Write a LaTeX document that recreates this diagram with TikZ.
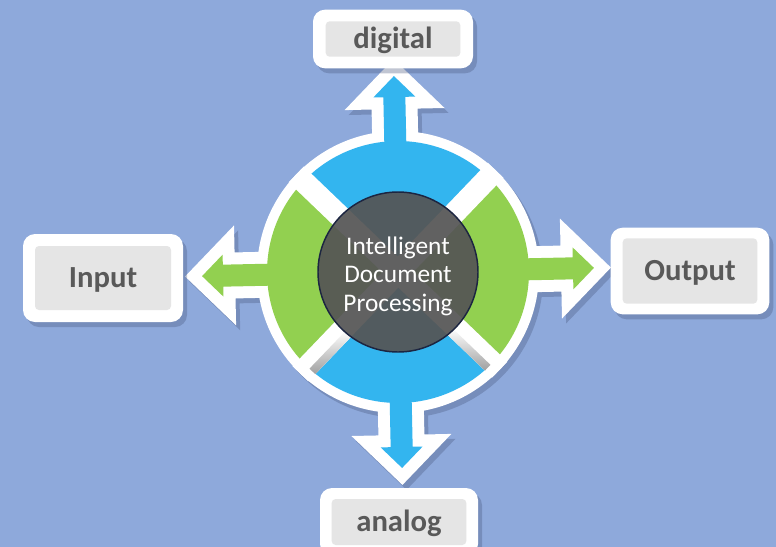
\documentclass[tikz,border=0pt]{standalone}
\usepackage{fontspec}
\setmainfont{Carlito}
\usepackage{tikz}
\definecolor{bgblue}{HTML}{8EA9DB}
\definecolor{segblue}{HTML}{33B5EF}
\definecolor{seggreen}{HTML}{92D050}
\definecolor{hubgray}{HTML}{555555}
\definecolor{hubrim}{HTML}{1C2541}
\definecolor{tagfill}{HTML}{E5E5E5}
\definecolor{tagtext}{HTML}{595959}
\definecolor{shadowc}{HTML}{4B5A80}
\newcommand{\arrowpath}{(-11,95) -- (-11,175) -- (-21,175) -- (0,196) -- (21,175) -- (11,175) -- (11,95) -- cycle}
\newcommand{\arrowrim}[2]{\draw[#2, line width=18pt, rotate=#1] \arrowpath;}
\newcommand{\arrowbody}[2]{\fill[#2, rotate=#1] \arrowpath;}
\newcommand{\sector}[3]{\fill[#3] (0,0) -- (#1:131) arc[start angle=#1, end angle=#2, radius=131] -- cycle;}
\newcommand{\tagbox}[8]{
	\node[boxshadow, minimum width=#4, minimum height=#5] (#1-shadow) at (#2+4,#3-5) {};
	\node[tagrim, minimum width=#4, minimum height=#5] (#1) at (#2,#3) {};
	\node[tagcore, minimum width=#6, minimum height=#7] (#1-core) at (#2,#3) {#8};
}
\tikzset{
	tagrim/.style={fill=white, rounded corners=9pt, inner sep=0pt},
	boxshadow/.style={fill=shadowc, opacity=.35, rounded corners=9pt, inner sep=0pt},
	tagcore/.style={fill=tagfill, rounded corners=3pt, inner sep=0pt, text=tagtext, text height=14.7pt, text depth=0pt, font=\fontsize{23}{27}\selectfont\bfseries},
	hub/.style={circle, minimum size=120pt, inner sep=0pt, fill=hubgray, fill opacity=.93, draw=hubrim, line width=1.1pt},
	hublabel/.style={text=white, align=center, font=\fontsize{19}{21.4}\selectfont}
}

\begin{document}
\begin{tikzpicture}[x=0.75pt, y=0.75pt]
	\useasboundingbox (0,0) rectangle (776,-547);
	\clip (0,0) rectangle (776,-547);
	\fill[bgblue] (0,0) rectangle (776,-547);
	
	\begin{scope}[shift={(398,-272)}, rotate=1.2]
		\begin{scope}[shift={(4,-5)}, transparency group, opacity=.35]
			\fill[shadowc] (0,0) circle (141);
			\arrowrim{0}{shadowc}
			\arrowrim{90}{shadowc}
			\arrowrim{180}{shadowc}
			\arrowrim{270}{shadowc}
		\end{scope}
		
		\fill[white] (0,0) circle (141);
		\arrowrim{0}{white}
		\arrowrim{90}{white}
		\arrowrim{180}{white}
		\arrowrim{270}{white}
		
		\sector{45}{135}{segblue}
		\sector{135}{225}{seggreen}
		\sector{225}{315}{segblue}
		\sector{-45}{45}{seggreen}
		
		\arrowbody{0}{segblue}
		\arrowbody{90}{seggreen}
		\arrowbody{180}{segblue}
		\arrowbody{270}{seggreen}
		
		\fill[white, rotate=45] (-141,-11) rectangle (141,11);
		\fill[white, rotate=-45] (-141,-11) rectangle (141,11);
		\shade[rotate=45, top color=white, bottom color=gray!75] (-131,-11) rectangle (-78,-3);
		\shade[rotate=-45, top color=white, bottom color=gray!75] (78,-11) rectangle (131,-3);
	\end{scope}
	
	\node[hub] (hub) at (398,-272) {};
	\node[hublabel] (hub-label) at (398,-276) {Intelligent\\Document\\Processing};
	
	\tagbox{digital}{393}{-39}{120pt}{44pt}{101pt}{26.6pt}{digital}
	\tagbox{analog}{399}{-522}{118.5pt}{51pt}{101pt}{34.5pt}{analog}
	\tagbox{input}{103}{-278}{120pt}{66pt}{102pt}{48pt}{Input}
	\tagbox{output}{690}{-271}{119pt}{65pt}{101pt}{49pt}{Output}
\end{tikzpicture}
\end{document}
